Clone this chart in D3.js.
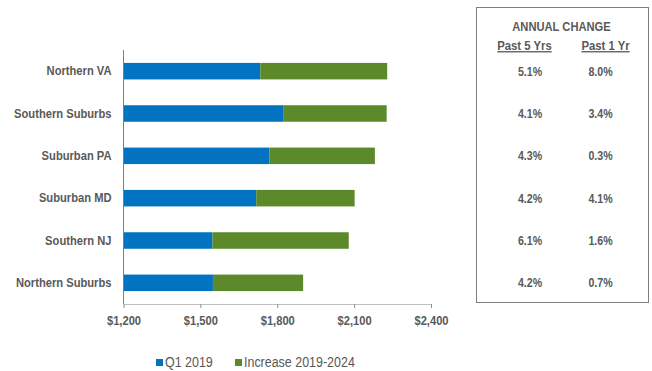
<!DOCTYPE html>
<html>
<head>
<meta charset="utf-8">
<script src="https://cdn.jsdelivr.net/npm/d3@7"></script>
<style>
  html, body { margin: 0; padding: 0; background: #fff; }
  svg { display: block; }
  text { font-family: "Liberation Sans", Arial, sans-serif; fill: #595959; }
</style>
</head>
<body>
<svg id="chart" width="652" height="371"></svg>
<script>
// Rent levels by market: Q1 2019 base plus the increase through 2024
const categories = ["Northern VA", "Southern Suburbs", "Suburban PA", "Suburban MD", "Southern NJ", "Northern Suburbs"];
const q1_2019 = [1734, 1823, 1769, 1718, 1547, 1549];
const increase = [495, 404, 412, 384, 532, 352];
const past5Yrs = ["5.1%", "4.1%", "4.3%", "4.2%", "6.1%", "4.2%"];
const past1Yr = ["8.0%", "3.4%", "0.3%", "4.1%", "1.6%", "0.7%"];
const xTicks = [1200, 1500, 1800, 2100, 2400];
const seriesNames = ["Q1 2019", "Increase 2019-2024"];
const colors = ["#0173c0", "#5c8a2a"];

const svg = d3.select("#chart");

// narrow the type horizontally around each text's own anchor point
function condense(sel, k) {
  sel.each(function () {
    const t = d3.select(this);
    const ax = +t.attr("x") || 0;
    t.attr("transform", `translate(${ax},0) scale(${k},1) translate(${-ax},0)`);
  });
}

const x = d3.scaleLinear().domain([1200, 2400]).range([123.5, 431]);
const y = d3.scaleBand().domain(categories).range([50, 304]).paddingInner(0.61).paddingOuter(0.305);

// stacked segments
const rows = categories.map((c, i) => ({ cat: c, base: q1_2019[i], inc: increase[i] }));

svg.append("g").selectAll("rect").data(rows).join("rect")
  .attr("x", x(1200))
  .attr("y", d => y(d.cat))
  .attr("width", d => x(d.base) - x(1200))
  .attr("height", y.bandwidth())
  .attr("fill", colors[0]);

svg.append("g").selectAll("rect").data(rows).join("rect")
  .attr("x", d => x(d.base))
  .attr("y", d => y(d.cat))
  .attr("width", d => x(d.base + d.inc) - x(d.base))
  .attr("height", y.bandwidth())
  .attr("fill", colors[1]);

// x axis
const xAxis = svg.append("g")
  .attr("transform", "translate(0,304)")
  .call(d3.axisBottom(x).tickValues(xTicks).tickSize(4).tickSizeOuter(0)
    .tickFormat(d => "$" + d3.format(",")(d)));
xAxis.select(".domain").attr("stroke", "#bfbfbf");
xAxis.selectAll(".tick line").attr("stroke", "#8c8c8c");
xAxis.selectAll(".tick text")
  .attr("x", 0)
  .attr("y", 12)
  .style("font-size", "13px").style("font-weight", "bold")
  .attr("fill", "#595959")
  .call(condense, 0.86);

// y axis
const yAxis = svg.append("g")
  .attr("transform", "translate(123.5,0)")
  .call(d3.axisLeft(y).tickSize(0).tickPadding(12));
yAxis.select(".domain").attr("stroke", "#7f7f7f").attr("d", "M0,50V304");
yAxis.selectAll(".tick text")
  .style("font-size", "13px").style("font-weight", "bold")
  .attr("fill", "#595959")
  .call(condense, 0.86);

// legend
const legend = svg.append("g");
const legendX = [156, 235];
seriesNames.forEach((name, i) => {
  legend.append("rect")
    .attr("x", legendX[i]).attr("y", 359)
    .attr("width", 7).attr("height", 7)
    .attr("fill", colors[i]);
  legend.append("text")
    .attr("x", legendX[i] + 9).attr("y", 362.5)
    .attr("dy", "0.35em")
    .style("font-size", "14px")
    .text(name)
    .call(condense, 0.89);
});

// annual change table
const table = svg.append("g");
table.append("rect")
  .attr("x", 476.5).attr("y", 7.5)
  .attr("width", 172).attr("height", 295)
  .attr("fill", "none").attr("stroke", "#7f7f7f").attr("stroke-width", 1);

table.append("text")
  .attr("x", 561.5).attr("y", 26).attr("dy", "0.35em")
  .attr("text-anchor", "middle")
  .style("font-size", "13px").style("font-weight", "bold")
  .text("ANNUAL CHANGE")
  .call(condense, 0.86);

const colX = [524.5, 605.5];
const valX = [530, 600.5];
["Past 5 Yrs", "Past 1 Yr"].forEach((h, i) => {
  table.append("text")
    .attr("x", colX[i]).attr("y", 45.5).attr("dy", "0.35em")
    .attr("text-anchor", "middle")
    .style("font-size", "13px").style("font-weight", "bold")
    .style("text-decoration", "underline")
    .text(h)
    .call(condense, 0.87);
});

[past5Yrs, past1Yr].forEach((col, j) => {
  table.selectAll(null).data(col).join("text")
    .attr("x", valX[j])
    .attr("y", (d, i) => y(categories[i]) + y.bandwidth() / 2)
    .attr("dy", "0.35em")
    .attr("text-anchor", "middle")
    .style("font-size", "12.5px").style("font-weight", "bold")
    .text(d => d)
    .call(condense, 0.85);
});
</script>
</body>
</html>
